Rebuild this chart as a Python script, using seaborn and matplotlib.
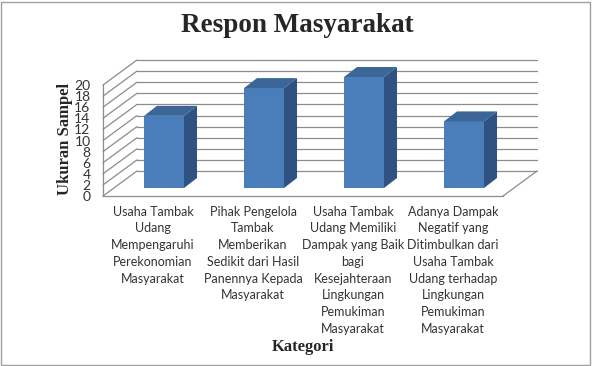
import numpy as np
import pandas as pd
import matplotlib
matplotlib.use("Agg")
import matplotlib.pyplot as plt
from matplotlib.patches import Polygon, Rectangle
from matplotlib.transforms import ScaledTranslation
import seaborn as sns

# data
kategori = [
    "Usaha Tambak\nUdang\nMempengaruhi\nPerekonomian\nMasyarakat",
    "Pihak Pengelola\nTambak\nMemberikan\nSedikit dari Hasil\nPanennya Kepada\nMasyarakat",
    "Usaha Tambak\nUdang Memiliki\nDampak yang Baik\nbagi\nKesejahteraan\nLingkungan\nPemukiman\nMasyarakat",
    "Adanya Dampak\nNegatif yang\nDitimbulkan dari\nUsaha Tambak\nUdang terhadap\nLingkungan\nPemukiman\nMasyarakat",
]
ukuran_sampel = [13, 18, 20, 12]
y_ticks = list(range(0, 21, 2))

FRONT = "#4A7EBB"
SIDE = "#2F5283"
TOP = "#3C6598"
GRID = "#8C8C8C"

sns.set_theme(style="white")
plt.rcParams["font.family"] = ["Lato", "DejaVu Sans"]

W, H = 594, 366
fig = plt.figure(figsize=(W / 100, H / 100), dpi=100)
ax = fig.add_axes([103 / W, 170 / H, 400 / W, 111 / H])

df = pd.DataFrame({"Kategori": kategori, "Ukuran": ukuran_sampel})
sns.barplot(data=df, x="Kategori", y="Ukuran", color=FRONT, width=0.4,
            saturation=1, ax=ax, zorder=3)
ax.set_xlim(-0.5, 3.5)
ax.set_ylim(0, 20)


def px(dx, dy):
    # pixel offset -> data offset
    inv = ax.transData.inverted()
    a = inv.transform((0, 0))
    b = inv.transform((dx, dy))
    return b[0] - a[0], b[1] - a[1]


DX, DY = px(34, 25)     # depth of the floor / walls
OX, OY = px(11, 8)      # where the bar front sits in depth
BX, BY = px(13, 10)     # bar depth

# back wall and left wall gridlines
x0, x1 = ax.get_xlim()
for v in y_ticks:
    ax.plot([x0 + DX, x1 + DX], [v + DY, v + DY], color=GRID, lw=0.9,
            clip_on=False, zorder=1)
    ax.plot([x0, x0 + DX], [v, v + DY], color=GRID, lw=0.9,
            clip_on=False, zorder=1)
# floor right edge
ax.plot([x1, x1 + DX], [0, DY], color=GRID, lw=0.9, clip_on=False, zorder=1)

# 3d look for the bars
for p in ax.patches:
    x, w, h = p.get_x(), p.get_width(), p.get_height()
    p.set_transform(ax.transData + ScaledTranslation(11 / 100, 8 / 100, fig.dpi_scale_trans))
    p.set_edgecolor("none")
    p.set_clip_on(False)
    side = [(x + w + OX, OY), (x + w + OX + BX, OY + BY),
            (x + w + OX + BX, h + OY + BY), (x + w + OX, h + OY)]
    top = [(x + OX, h + OY), (x + w + OX, h + OY),
           (x + w + OX + BX, h + OY + BY), (x + OX + BX, h + OY + BY)]
    ax.add_patch(Polygon(side, closed=True, fc=SIDE, ec="none", zorder=3, clip_on=False))
    ax.add_patch(Polygon(top, closed=True, fc=TOP, ec="none", zorder=3, clip_on=False))

ax.set_yticks(y_ticks)
ax.set_xlabel("")
ax.set_ylabel("")
for s in ["top", "right"]:
    ax.spines[s].set_visible(False)
for s in ["left", "bottom"]:
    ax.spines[s].set_color(GRID)
    ax.spines[s].set_linewidth(0.9)
ax.tick_params(axis="y", length=3, color=GRID, pad=6, labelsize=10, labelcolor="#333333")
ax.tick_params(axis="x", length=0, pad=7, labelsize=9, labelcolor="#333333")
for lab in ax.get_xticklabels():
    lab.set_linespacing(1.47)
ax.patch.set_alpha(0)

serif = ["Liberation Serif", "DejaVu Serif"]
fig.text(297 / W, 1 - 26 / H, "Respon Masyarakat", family=serif, weight="bold",
         fontsize=19.5, ha="center", va="center")
fig.text(65 / W, 1 - 139 / H, "Ukuran Sampel", family=serif, weight="bold",
         fontsize=12, ha="center", va="center", rotation=90)
fig.text(303 / W, 1 - 347 / H, "Kategori", family=serif, weight="bold",
         fontsize=12, ha="center", va="center")

fig.patches.append(Rectangle((1 / W, 1 / H), 589 / W, 363 / H, transform=fig.transFigure,
                             fill=False, ec="#A0A0A0", lw=1))

fig.savefig("out.png", dpi=100)
